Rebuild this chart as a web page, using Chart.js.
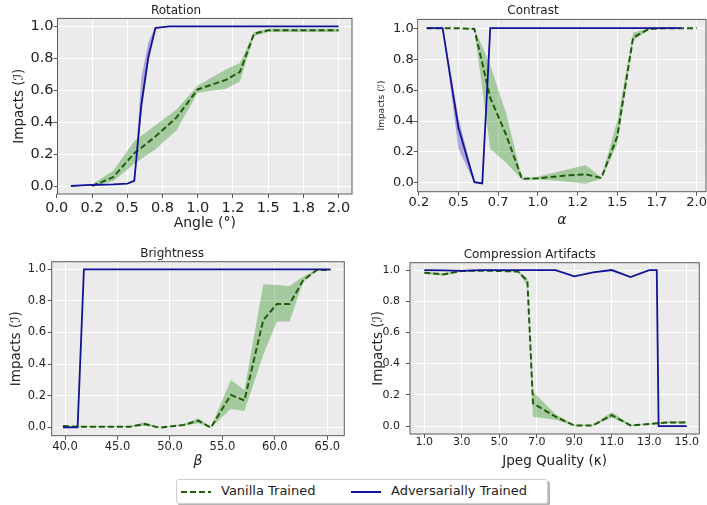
<!DOCTYPE html>
<html>
<head>
<meta charset="utf-8">
<script src="https://cdn.jsdelivr.net/npm/chart.js@4.4.1/dist/chart.umd.min.js"></script>
<style>
  body { margin: 0; width: 707px; height: 505px; position: relative; overflow: hidden; background: #fff; font-family: 'DejaVu Sans', sans-serif; }
  canvas { position: absolute; }
  #legend { position: absolute; left: 176px; top: 479px; width: 370px; height: 23px; border: 1px solid #cfcfcf; border-radius: 3px; box-shadow: 2px 2px 0 #b5b5b5; background: #fff; font-size: 13px; color: #222; }
  #legend span { position: absolute; top: 3px; line-height: 16px; white-space: nowrap; }
  #legend svg { position: absolute; top: 10px; }
</style>
</head>
<body>
<canvas id="rot" width="360" height="235" style="left:0;top:0"></canvas>
<canvas id="con" width="360" height="235" style="left:360px;top:0"></canvas>
<canvas id="bri" width="360" height="235" style="left:0;top:235px"></canvas>
<canvas id="cmp" width="347" height="235" style="left:360px;top:235px"></canvas>
<div id="legend">
  <svg style="left:4px" width="30" height="4"><line x1="0" y1="2" x2="30" y2="2" stroke="#1f5c0a" stroke-width="2" stroke-dasharray="6 3"/></svg>
  <span style="left:44px">Vanilla Trained</span>
  <svg style="left:174px" width="30" height="4"><line x1="0" y1="2" x2="30" y2="2" stroke="#12129a" stroke-width="2"/></svg>
  <span style="left:214px">Adversarially Trained</span>
</div>
<script>
// ---- data ----
var yTicks = [0, 0.2, 0.4, 0.6, 0.8, 1.0];
var yTickLabels = ['0.0', '0.2', '0.4', '0.6', '0.8', '1.0'];

// Rotation
var rotTicks = [0, 0.25, 0.5, 0.75, 1.0, 1.25, 1.5, 1.75, 2.0];
var rotTickLabels = ['0.0', '0.2', '0.5', '0.8', '1.0', '1.2', '1.5', '1.8', '2.0'];
var rotBlueX = [0.1, 0.2, 0.3, 0.4, 0.5, 0.55, 0.6, 0.65, 0.7, 0.8, 1.0, 1.2, 1.4, 1.6, 1.8, 2.0];
var rotBlue = [0.0, 0.005, 0.008, 0.01, 0.015, 0.033, 0.51, 0.81, 0.99, 1.0, 1.0, 1.0, 1.0, 1.0, 1.0, 1.0];
var rotBlueLo = [0.0, 0.005, 0.008, 0.01, 0.014, 0.03, 0.45, 0.77, 0.98, 1.0, 1.0, 1.0, 1.0, 1.0, 1.0, 1.0];
var rotBlueHi = [0.0, 0.005, 0.008, 0.01, 0.016, 0.036, 0.68, 0.9, 1.0, 1.0, 1.0, 1.0, 1.0, 1.0, 1.0, 1.0];
var rotGreenX = [0.25, 0.4, 0.55, 0.7, 0.85, 1.0, 1.2, 1.3, 1.4, 1.5, 1.6, 1.8, 2.0];
var rotGreen = [0.0, 0.055, 0.205, 0.31, 0.43, 0.605, 0.665, 0.715, 0.955, 0.975, 0.975, 0.975, 0.975];
var rotGreenLo = [0.0, 0.03, 0.14, 0.23, 0.35, 0.585, 0.61, 0.655, 0.94, 0.965, 0.965, 0.965, 0.965];
var rotGreenHi = [0.01, 0.095, 0.28, 0.38, 0.48, 0.63, 0.73, 0.77, 0.965, 0.985, 0.985, 0.985, 0.985];

// Contrast
var conTicks = [0.25, 0.5, 0.75, 1.0, 1.25, 1.5, 1.75, 2.0];
var conTickLabels = ['0.2', '0.5', '0.7', '1.0', '1.2', '1.5', '1.7', '2.0'];
var conBlueX = [0.3, 0.4, 0.5, 0.6, 0.65, 0.7, 0.8, 1.0, 1.2, 1.4, 1.6, 1.8, 1.9];
var conBlue = [1.0, 1.0, 0.355, 0.005, -0.003, 1.0, 1.0, 1.0, 1.0, 1.0, 1.0, 1.0, 1.0];
var conBlueLo = [1.0, 1.0, 0.22, 0.0, -0.005, 1.0, 1.0, 1.0, 1.0, 1.0, 1.0, 1.0, 1.0];
var conBlueHi = [1.0, 1.0, 0.42, 0.01, 0.0, 1.0, 1.0, 1.0, 1.0, 1.0, 1.0, 1.0, 1.0];
var conGreenX = [0.3, 0.4, 0.5, 0.6, 0.7, 0.8, 0.9, 1.0, 1.1, 1.2, 1.3, 1.4, 1.5, 1.6, 1.7, 1.8, 1.9, 2.0];
var conGreen = [1.0, 1.0, 1.0, 0.995, 0.55, 0.31, 0.026, 0.03, 0.04, 0.05, 0.055, 0.032, 0.3, 0.94, 0.995, 1.0, 1.0, 1.0];
var conGreenLo = [1.0, 1.0, 1.0, 0.99, 0.22, 0.13, 0.02, 0.02, 0.015, 0.005, -0.005, 0.025, 0.25, 0.92, 0.99, 1.0, 1.0, 1.0];
var conGreenHi = [1.0, 1.0, 1.0, 1.0, 0.76, 0.45, 0.03, 0.04, 0.065, 0.09, 0.115, 0.035, 0.4, 0.97, 1.0, 1.0, 1.0, 1.0];

// Brightness
var briTicks = [40, 45, 50, 55, 60, 65];
var briTickLabels = ['40.0', '45.0', '50.0', '55.0', '60.0', '65.0'];
var briBlueX = [39.8, 41.2, 41.8, 45.0, 50.0, 55.0, 60.0, 65.3];
var briBlue = [0.0, 0.0, 1.0, 1.0, 1.0, 1.0, 1.0, 1.0];
var briGreenX = [39.8, 41.2, 44.0, 46.2, 47.6, 49.0, 51.3, 52.7, 53.9, 55.8, 57.1, 58.9, 60.2, 61.4, 62.7, 64.0, 65.3];
var briGreen = [0.008, 0.004, 0.004, 0.004, 0.021, -0.002, 0.015, 0.042, -0.002, 0.205, 0.17, 0.68, 0.78, 0.78, 0.93, 0.995, 0.995];
var briGreenLo = [0.0, 0.0, 0.0, 0.0, 0.01, -0.003, 0.01, 0.025, -0.003, 0.116, 0.103, 0.46, 0.67, 0.67, 0.92, 0.99, 0.99];
var briGreenHi = [0.012, 0.008, 0.008, 0.008, 0.032, 0.0, 0.02, 0.057, 0.0, 0.3, 0.236, 0.905, 0.9, 0.895, 0.955, 1.0, 1.0];

// Compression Artifacts
var cmpTicks = [1, 3, 5, 7, 9, 11, 13, 15];
var cmpTickLabels = ['1.0', '3.0', '5.0', '7.0', '9.0', '11.0', '13.0', '15.0'];
var cmpBlueX = [1, 2, 3, 4, 5, 6, 7, 8, 9, 10, 11, 12, 13, 13.4, 13.5, 14, 15];
var cmpBlue = [1.0, 0.998, 0.995, 1.0, 1.0, 1.0, 1.0, 1.0, 0.96, 0.985, 1.0, 0.955, 1.0, 1.0, 0.0, 0.0, 0.0];
var cmpGreenX = [1, 2, 3, 4, 5, 6, 6.5, 6.8, 8, 9, 10, 11, 12, 13, 14, 15];
var cmpGreen = [0.983, 0.972, 0.994, 0.996, 0.994, 0.99, 0.93, 0.145, 0.06, 0.004, 0.004, 0.07, 0.004, 0.013, 0.023, 0.023];
var cmpGreenLo = [0.975, 0.965, 0.99, 0.993, 0.99, 0.985, 0.9, 0.06, 0.04, 0.0, 0.0, 0.055, 0.0, 0.01, 0.018, 0.018];
var cmpGreenHi = [0.99, 0.98, 0.998, 1.0, 0.998, 0.995, 0.945, 0.22, 0.075, 0.008, 0.008, 0.09, 0.008, 0.016, 0.03, 0.03];

// ---- drawing ----
Chart.defaults.font.family = "'DejaVu Sans', sans-serif";
Chart.defaults.color = '#222';

var BLUE = '#12129a';
var GREEN = '#1f5c0a';
var BLUE_BAND = 'rgba(80, 60, 190, 0.4)';
var GREEN_BAND = 'rgba(20, 130, 0, 0.32)';

// grey plot background + frame, like the matplotlib style of the source
var framePlugin = {
    id: 'frame',
    beforeDraw: function (chart) {
        var a = chart.chartArea, ctx = chart.ctx;
        ctx.save();
        ctx.fillStyle = '#ebebeb';
        ctx.fillRect(a.left, a.top, a.right - a.left, a.bottom - a.top);
        ctx.restore();
    },
    afterDraw: function (chart) {
        var a = chart.chartArea, ctx = chart.ctx;
        ctx.save();
        ctx.strokeStyle = '#5a5a5a';
        ctx.lineWidth = 1;
        ctx.strokeRect(a.left, a.top, a.right - a.left, a.bottom - a.top);
        ctx.restore();
    }
};

function pts(xs, ys) {
    return xs.map(function (x, i) { return { x: x, y: ys[i] }; });
}

function bandSet(xs, ys, fillTo, color) {
    return {
        data: pts(xs, ys),
        borderColor: 'transparent',
        borderWidth: 0,
        pointRadius: 0,
        fill: fillTo === null ? false : fillTo,
        backgroundColor: color
    };
}

function makePanel(id, p) {
    var datasets = [
        { label: 'Adversarially Trained', data: pts(p.blueX, p.blue), borderColor: BLUE, borderWidth: 1.8, pointRadius: 0, fill: false },
        { label: 'Vanilla Trained', data: pts(p.greenX, p.green), borderColor: GREEN, borderWidth: 2, borderDash: [6, 3], pointRadius: 0, fill: false },
        bandSet(p.greenX, p.greenLo, null, GREEN_BAND),
        bandSet(p.greenX, p.greenHi, 2, GREEN_BAND)
    ];
    if (p.blueLo) {
        datasets.push(bandSet(p.blueX, p.blueLo, null, BLUE_BAND));
        datasets.push(bandSet(p.blueX, p.blueHi, 4, BLUE_BAND));
    }

    new Chart(document.getElementById(id), {
        type: 'line',
        data: { datasets: datasets },
        options: {
            responsive: false,
            animation: false,
            devicePixelRatio: 1,
            layout: { padding: { left: 0, right: p.padRight, top: 0, bottom: 0 } },
            plugins: {
                legend: { display: false },
                tooltip: { enabled: false },
                title: {
                    display: true,
                    text: p.title,
                    color: '#222',
                    font: { size: 12, weight: 'normal' },
                    padding: { top: p.titleTop, bottom: p.titleBottom }
                }
            },
            scales: {
                x: {
                    type: 'linear',
                    min: p.xMin,
                    max: p.xMax,
                    afterBuildTicks: function (s) {
                        s.ticks = p.xTicks.map(function (v) { return { value: v }; });
                    },
                    afterFit: function (s) { s.height = p.xHeight; },
                    ticks: {
                        autoSkip: false,
                        maxRotation: 0,
                        padding: p.xTickPad,
                        font: { size: p.xTickSize },
                        callback: function (v, i) { return p.xLabels[i]; }
                    },
                    grid: { color: '#ffffff', tickColor: '#555', tickLength: 4 },
                    border: { display: false },
                    title: {
                        display: true,
                        text: p.xTitle,
                        font: { size: p.xTitleSize, style: p.xTitleStyle },
                        padding: { top: 0, bottom: p.xTitlePad }
                    }
                },
                y: {
                    type: 'linear',
                    min: p.yMin,
                    max: p.yMax,
                    afterBuildTicks: function (s) {
                        s.ticks = yTicks.map(function (v) { return { value: v }; });
                    },
                    afterFit: function (s) { s.width = p.yWidth; },
                    ticks: {
                        padding: p.yTickPad,
                        font: { size: p.yTickSize },
                        callback: function (v, i) { return yTickLabels[i]; }
                    },
                    grid: { color: '#ffffff', tickColor: '#555', tickLength: 4 },
                    border: { display: false },
                    title: {
                        display: true,
                        text: 'Impacts (ℐ)',
                        font: { size: p.yTitleSize },
                        padding: { top: p.yTitlePad, bottom: 0 }
                    }
                }
            }
        },
        plugins: [framePlugin]
    });
}

makePanel('rot', {
    title: 'Rotation', titleTop: 3.5, titleBottom: 0.5,
    blueX: rotBlueX, blue: rotBlue, blueLo: rotBlueLo, blueHi: rotBlueHi,
    greenX: rotGreenX, green: rotGreen, greenLo: rotGreenLo, greenHi: rotGreenHi,
    xMin: 0.005, xMax: 2.095, xTicks: rotTicks, xLabels: rotTickLabels,
    xTickSize: 14.5, xTickPad: 2, xHeight: 41,
    xTitle: 'Angle (°)', xTitleSize: 14, xTitleStyle: 'normal', xTitlePad: 3.5,
    yMin: -0.05, yMax: 1.05, yTickSize: 14.5, yTickPad: 0, yWidth: 57.5,
    yTitleSize: 13.5, yTitlePad: 10.9,
    padRight: 8
});

makePanel('con', {
    title: 'Contrast', titleTop: 3.5, titleBottom: 1.5,
    blueX: conBlueX, blue: conBlue, blueLo: conBlueLo, blueHi: conBlueHi,
    greenX: conGreenX, green: conGreen, greenLo: conGreenLo, greenHi: conGreenHi,
    xMin: 0.243, xMax: 2.059, xTicks: conTicks, xLabels: conTickLabels,
    xTickSize: 13, xTickPad: -1, xHeight: 43.3,
    xTitle: 'α', xTitleSize: 14, xTitleStyle: 'italic', xTitlePad: 6.6,
    yMin: -0.057, yMax: 1.057, yTickSize: 13, yTickPad: 0, yWidth: 57.7,
    yTitleSize: 9, yTitlePad: 16.3,
    padRight: 14
});

makePanel('bri', {
    title: 'Brightness', titleTop: 12, titleBottom: 0.3,
    blueX: briBlueX, blue: briBlue,
    greenX: briGreenX, green: briGreen, greenLo: briGreenLo, greenHi: briGreenHi,
    xMin: 38.73, xMax: 66.62, xTicks: briTicks, xLabels: briTickLabels,
    xTickSize: 11.5, xTickPad: 0, xHeight: 34.3,
    xTitle: 'β', xTitleSize: 14, xTitleStyle: 'italic', xTitlePad: 0.1,
    yMin: -0.053, yMax: 1.048, yTickSize: 11.5, yTickPad: 1.7, yWidth: 51.7,
    yTitleSize: 13.5, yTitlePad: 8.6,
    padRight: 15.7
});

makePanel('cmp', {
    title: 'Compression Artifacts', titleTop: 13, titleBottom: 0.3,
    blueX: cmpBlueX, blue: cmpBlue,
    greenX: cmpGreenX, green: cmpGreen, greenLo: cmpGreenLo, greenHi: cmpGreenHi,
    xMin: 0.237, xMax: 15.67, xTicks: cmpTicks, xLabels: cmpTickLabels,
    xTickSize: 11, xTickPad: -2, xHeight: 36,
    xTitle: 'Jpeg Quality (κ)', xTitleSize: 13.5, xTitleStyle: 'normal', xTitlePad: 0.2,
    yMin: -0.051, yMax: 1.047, yTickSize: 11, yTickPad: 6, yWidth: 50,
    yTitleSize: 13.5, yTitlePad: 10.2,
    padRight: 7.7
});
</script>
</body>
</html>
